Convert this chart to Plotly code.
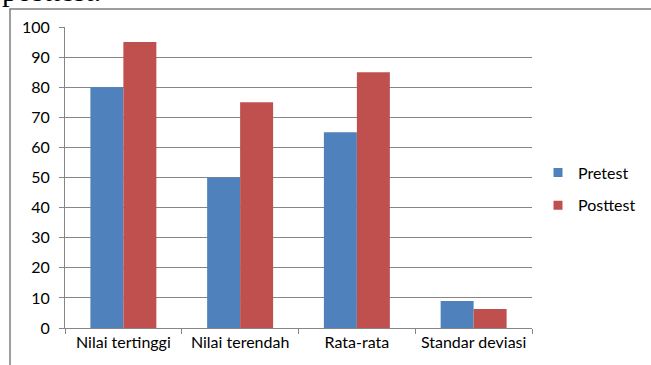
import plotly.graph_objects as go

categories = ["Nilai tertinggi", "Nilai terendah", "Rata-rata", "Standar deviasi"]
pretest = [80, 50, 65, 9]
posttest = [95, 75, 85, 6.3]
y_ticks = [0, 10, 20, 30, 40, 50, 60, 70, 80, 90, 100]
series_names = ["Pretest", "Posttest"]
series_colors = ["#4F81BD", "#C0504D"]

W, H = 651, 365
L, R, T, B = 65, 532, 27, 328
pw, ph = R - L, B - T

def px(x):
    return (x - L) / pw

def py(y):
    return (B - y) / ph

FONT = "Lato"
FS = 16
fig = go.Figure()
for name, vals, col in zip(series_names, [pretest, posttest], series_colors):
    fig.add_trace(go.Bar(name=name, x=categories, y=vals, showlegend=False,
                         marker=dict(color=col, line=dict(width=0))))
for i, (name, col) in enumerate(zip(series_names, series_colors)):
    fig.add_trace(go.Scatter(name=name, x=[None], y=[None], mode="markers",
                             legendgroup=f"g{i}",
                             marker=dict(symbol="square", size=9, color=col)))

fig.update_layout(
    width=W, height=H,
    margin=dict(l=L, r=W - R, t=T, b=H - B, pad=0, autoexpand=False),
    paper_bgcolor="white", plot_bgcolor="white",
    barmode="group", bargap=0.435, bargroupgap=0,
    font=dict(family=FONT, size=FS, color="#000000"),
    showlegend=True,
    legend=dict(x=px(538), y=py(189), xanchor="left", yanchor="middle",
                font=dict(family=FONT, size=FS, color="#000"),
                tracegroupgap=9, traceorder="grouped",
                itemwidth=30, bgcolor="rgba(0,0,0,0)"),
    xaxis=dict(type="category", showline=True, linecolor="#868686", linewidth=1,
               ticks="outside", ticklen=5, tickcolor="#868686", tickson="boundaries",
               showgrid=False, tickfont=dict(family=FONT, size=FS, color="#000")),
    yaxis=dict(range=[0, 100], tickvals=y_ticks, showline=True, linecolor="#868686",
               linewidth=1, ticks="outside", ticklen=5, tickcolor="#868686",
               showgrid=True, gridcolor="#868686", gridwidth=1, zeroline=False,
               tickfont=dict(family=FONT, size=FS, color="#000"), ticklabelstandoff=6),
)

# outer chart frame
fig.add_shape(type="rect", xref="paper", yref="paper",
              x0=px(10), x1=px(700), y0=py(9), y1=py(400),
              line=dict(color="#7f7f7f", width=1.5), layer="below")

# cut-off document text above the chart
fig.add_annotation(text="posttest.", xref="paper", yref="paper",
                   x=px(0), y=py(-1), xanchor="left", yanchor="bottom",
                   showarrow=False, yshift=-10,
                   font=dict(family="Liberation Serif", size=30, color="#000"))

fig.write_html("out.html")
